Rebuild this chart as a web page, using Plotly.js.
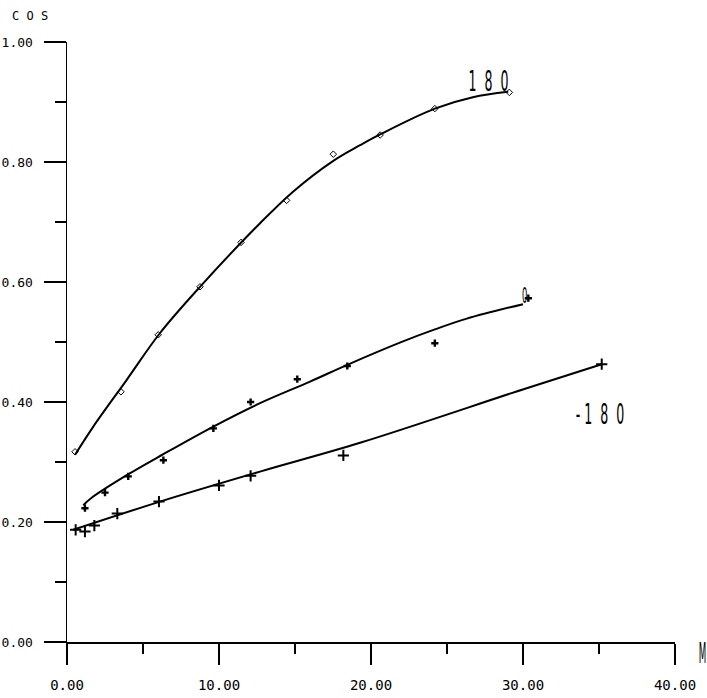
<!DOCTYPE html>
<html>
<head>
<meta charset="utf-8">
<script src="https://cdn.plot.ly/plotly-3.0.1.min.js"></script>
<style>html,body{margin:0;padding:0;background:#fff;}#chart{width:707px;height:698px;}</style>
</head>
<body>
<div id="chart"></div>
<script>
// ---- data ----
const pts180X = [0.53, 3.55, 6.0, 8.75, 11.45, 14.45, 17.52, 20.6, 24.2, 29.1];
const pts180Y = [0.317, 0.417, 0.512, 0.592, 0.666, 0.736, 0.813, 0.845, 0.889, 0.916];
const fit180X = [0.53, 1.73, 3.93, 6.12, 8.75, 12.7, 14.89, 17.52, 19.28, 20.6, 24.2, 26.7, 29.03];
const fit180Y = [0.312, 0.359, 0.437, 0.515, 0.592, 0.698, 0.751, 0.802, 0.828, 0.846, 0.889, 0.908, 0.917];

const pts0X = [1.18, 2.5, 4.03, 6.34, 9.63, 12.08, 15.15, 18.44, 24.2, 30.35];
const pts0Y = [0.223, 0.249, 0.276, 0.303, 0.356, 0.400, 0.438, 0.460, 0.498, 0.573];
const fit0X = [1.07, 1.6, 3.93, 6.34, 9.63, 12.7, 15.99, 18.44, 21.9, 24.2, 26.3, 30.0];
const fit0Y = [0.228, 0.240, 0.278, 0.313, 0.359, 0.398, 0.434, 0.462, 0.499, 0.521, 0.539, 0.563];

const ptsM180X = [0.57, 1.18, 1.8, 3.31, 6.05, 10.0, 12.08, 18.18, 35.18];
const ptsM180Y = [0.187, 0.184, 0.194, 0.214, 0.234, 0.261, 0.277, 0.311, 0.463];
const fitM180X = [0.41, 6.12, 12.7, 19.28, 30.24, 35.18];
const fitM180Y = [0.187, 0.234, 0.284, 0.332, 0.423, 0.463];

const xTickVals = [0, 10, 20, 30, 40];
const xTickText = ["0.00", "10.00", "20.00", "30.00", "40.00"];
const yTickVals = [0, 0.2, 0.4, 0.6, 0.8, 1.0];
const yTickText = ["0.00", "0.20", "0.40", "0.60", "0.80", "1.00"];

const NB = "\u00A0";
const curveLabels = ["1" + NB + NB + "8" + NB + NB + "0", "0", "-" + NB + "1" + NB + NB + "8" + NB + NB + "0"];
const curveLabelX = [27.76, 30.07, 35.07];
const curveLabelY = [0.935, 0.577, 0.38];

// ---- drawing ----
const MONO = '"DejaVu Sans Mono", "Liberation Mono", monospace';
const SANS = '"DejaVu Sans", "Liberation Sans", sans-serif';
const lineStyle = {color: '#000', width: 2, shape: 'spline', smoothing: 1};

const traces = [
  {x: fit180X, y: fit180Y, mode: 'lines', line: lineStyle, hoverinfo: 'skip'},
  {x: pts180X, y: pts180Y, mode: 'markers', marker: {symbol: 'diamond-open', size: 5, color: '#000', line: {width: 1, color: '#000'}}},
  {x: fit0X, y: fit0Y, mode: 'lines', line: lineStyle, hoverinfo: 'skip'},
  {x: pts0X, y: pts0Y, mode: 'markers', marker: {symbol: 'cross', size: 6, color: '#000'}},
  {x: fitM180X, y: fitM180Y, mode: 'lines', line: lineStyle, hoverinfo: 'skip'},
  {x: ptsM180X, y: ptsM180Y, mode: 'markers', marker: {symbol: 'cross-thin-open', size: 8, color: '#000', line: {width: 2, color: '#000'}}}
];

const annotations = curveLabels.map((t, i) => ({
  x: curveLabelX[i], y: curveLabelY[i], xref: 'x', yref: 'y', text: t, showarrow: false,
  font: {family: SANS, size: i === 1 ? 21 : 28, color: '#000'}, xanchor: 'center', yanchor: 'middle'
}));
annotations.push({x: 0, y: 1, xref: 'paper', yref: 'paper', text: 'C O S', showarrow: false,
  xanchor: 'center', yanchor: 'middle', xshift: -37, yshift: 26, font: {family: MONO, size: 12, color: '#000'}});
annotations.push({x: 40, y: 0, xref: 'x', yref: 'y', text: 'M', showarrow: false,
  xanchor: 'center', yanchor: 'middle', xshift: 27, yshift: -11, font: {family: SANS, size: 29, color: '#000'}});

const layout = {
  width: 707, height: 698,
  margin: {l: 67, r: 32, t: 42, b: 56, pad: 0},
  paper_bgcolor: '#fff', plot_bgcolor: '#fff',
  showlegend: false,
  font: {family: MONO, color: '#000', size: 14},
  xaxis: {
    range: [0, 40], showgrid: false, zeroline: false, showline: true, linecolor: '#000', linewidth: 1.5,
    tickmode: 'array', tickvals: xTickVals, ticktext: xTickText,
    ticks: 'outside', ticklen: 21, tickwidth: 1.5, tickcolor: '#000', ticklabelstandoff: 9,
    minor: {tickmode: 'linear', tick0: 0, dtick: 5, ticks: 'outside', ticklen: 10, tickwidth: 1.5, tickcolor: '#000', showgrid: false},
    tickfont: {family: MONO, size: 14, color: '#000'}
  },
  yaxis: {
    range: [0, 1], showgrid: false, zeroline: false, showline: true, linecolor: '#000', linewidth: 1.5,
    tickmode: 'array', tickvals: yTickVals, ticktext: yTickText,
    ticks: 'outside', ticklen: 22, tickwidth: 1.5, tickcolor: '#000', ticklabelstandoff: 8,
    minor: {tickmode: 'linear', tick0: 0, dtick: 0.1, ticks: 'outside', ticklen: 11, tickwidth: 1.5, tickcolor: '#000', showgrid: false},
    tickfont: {family: MONO, size: 13, color: '#000'}
  },
  annotations: annotations
};

Plotly.newPlot('chart', traces, layout, {displayModeBar: false, staticPlot: true}).then(() => {
  // the reference uses a very tall, narrow plotter font for these labels
  const squeeze = {};
  squeeze[curveLabels[0]] = 0.45;
  squeeze[curveLabels[1]] = 0.4;
  squeeze[curveLabels[2]] = 0.45;
  squeeze['M'] = 0.3;
  document.querySelectorAll('#chart .annotation-text').forEach(el => {
    const k = squeeze[el.textContent];
    if (k) {
      el.style.transformBox = 'fill-box';
      el.style.transformOrigin = 'center';
      el.style.transform = 'scaleX(' + k + ')';
    }
  });
});
</script>
</body>
</html>
